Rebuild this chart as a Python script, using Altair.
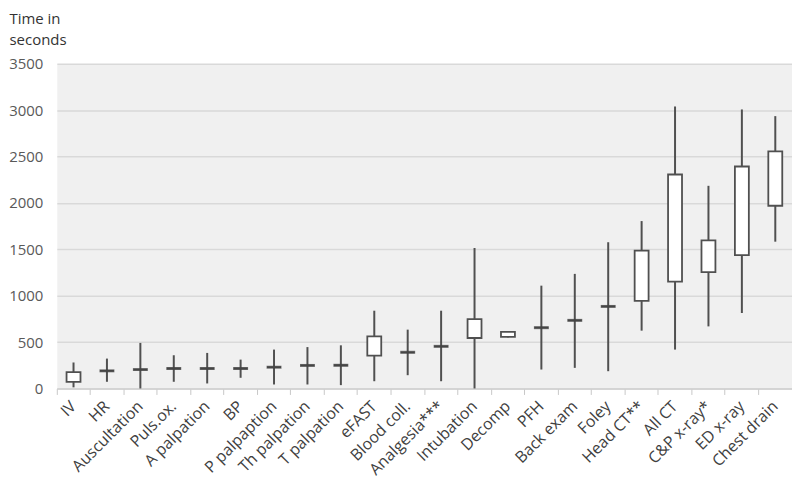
import altair as alt
import pandas as pd

tasks = ["IV", "HR", "Auscultation", "Puls.ox.", "A palpation", "BP", "P palpaption",
         "Th palpation", "T palpation", "eFAST", "Blood coll.", "Analgesia***", "Intubation",
         "Decomp", "PFH", "Back exam", "Foley", "Head CT**", "All CT", "C&P x-ray*",
         "ED x-ray", "Chest drain"]
low = [12, 72, 0, 72, 54, 115, 43, 43, 36, 78, 143, 78, 0, 550, 204, 222, 186, 623, 419, 669, 813, 1582]
q1 = [70, 190, 204, 215, 215, 215, 229, 248, 250, 354, 390, 454, 544, 555, 655, 734, 884, 945, 1152, 1253, 1436, 1969]
q3 = [175, 190, 204, 215, 215, 215, 229, 248, 250, 562, 390, 454, 748, 609, 655, 734, 884, 1486, 2306, 1597, 2392, 2556]
high = [280, 322, 491, 358, 383, 311, 419, 446, 465, 838, 634, 838, 1514, 615, 1108, 1235, 1576, 1804, 3039, 2184, 3007, 2935]
y_ticks = [0, 500, 1000, 1500, 2000, 2500, 3000, 3500]

df = pd.DataFrame({"task": tasks, "low": low, "q1": q1, "q3": q3, "high": high})

FONT = "Open Sans"
INK = "#505050"

x_enc = alt.X("task:N", sort=tasks,
              scale=alt.Scale(paddingInner=0, paddingOuter=0),
              axis=alt.Axis(title=None, bandPosition=0, labelOffset=0,
                            labelAngle=-45, labelAlign="right", labelBaseline="middle",
                            labelFont=FONT, labelFontSize=16, labelColor="#404040",
                            labelPadding=9, tickColor="#c8c8c8", tickSize=6, tickWidth=1,
                            domainColor="#d0d0d0", domainWidth=1.5, grid=False))
y_scale = alt.Scale(domain=[0, 3500], nice=False)
y_axis = alt.Axis(values=y_ticks, format="d", title=["Time in", "seconds"], titleAngle=0,
                  titleAlign="left", titleX=-48, titleY=-40, titleBaseline="alphabetic",
                  titleFont=FONT, titleFontSize=15, titleFontWeight="normal",
                  titleColor="#333333", titleLineHeight=21,
                  labelFont=FONT, labelFontSize=15, labelColor="#595959", labelPadding=14,
                  domain=False, ticks=False, grid=True, gridColor="#d9d9d9", gridWidth=1.5)

base = alt.Chart(df)
whisk = base.mark_rule(color=INK, strokeWidth=2).encode(
    x=x_enc,
    y=alt.Y("low:Q", scale=y_scale, axis=y_axis),
    y2="high:Q")
box = base.mark_bar(fill="white", stroke=INK, strokeWidth=1.8, size=14).encode(
    x=x_enc, y=alt.Y("q1:Q", scale=y_scale), y2="q3:Q")
flat = base.transform_filter("datum.q1 == datum.q3").mark_tick(
    color="#404040", thickness=3, size=15).encode(
    x=x_enc, y=alt.Y("q1:Q", scale=y_scale))

chart = alt.layer(whisk, box, flat).properties(
    width=738, height=326,
    background="white",
    autosize=alt.AutoSizeParams(type="none"),
    padding={"left": 49, "top": 55, "right": 0, "bottom": 100},
).configure_view(fill="#f0f0f0", stroke="transparent")

chart.save("out.html", embed_options={"renderer": "svg", "actions": False})
